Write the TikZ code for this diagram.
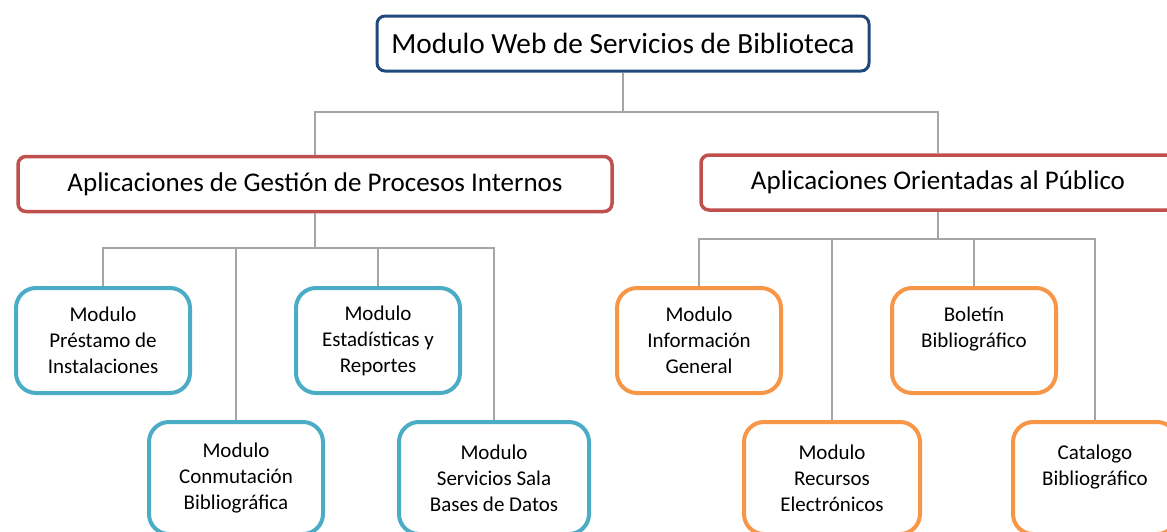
\documentclass[tikz,border=0pt]{standalone}
\usepackage{fontspec}
\setmainfont{Carlito}
\definecolor{blueC}{RGB}{31,73,125}
\definecolor{redC}{RGB}{192,80,77}
\definecolor{tealC}{RGB}{75,172,198}
\definecolor{orangeC}{RGB}{247,150,70}
\definecolor{lineC}{RGB}{165,165,165}
\tikzset{
  hdr/.style={draw=#1, line width=3.5pt, rounded corners=8pt, inner sep=0pt,
    minimum height=55pt, font=\fontsize{27}{33}\selectfont, text=black},
  modbox/.style={draw=#1, line width=4pt, rounded corners=20pt, inner sep=0pt,
    align=center, font=\fontsize{21}{26}\selectfont, text=black},
  conn/.style={draw=lineC, line width=2pt}
}
\begin{document}
\begin{tikzpicture}[x=1pt,y=-1pt]
\useasboundingbox (0,0) rectangle (1167,531);
\clip (0,0) rectangle (1167,531);
\fill[white] (0,0) rectangle (1167,531);
% headers
\node[hdr=blueC, minimum width=492pt, line width=3pt, font=\fontsize{29.3}{35}\selectfont] (top) at (623,43.5) {Modulo Web de Servicios de Biblioteca};
\node[hdr=redC, minimum width=594pt] (left) at (315,184) {Aplicaciones de Gestión de Procesos Internos};
\node[hdr=redC, minimum width=474pt] (right) at (938,182.5) {Aplicaciones Orientadas al Público};
% bus coordinates
\coordinate (bus0) at (623,112);
\coordinate (busL) at (315,248);
\coordinate (busR) at (938,239);
% modules
\node[modbox=tealC, minimum width=174pt, minimum height=105pt] (prest) at (103,340.5) {Modulo\\Préstamo de\\Instalaciones};
\node[modbox=tealC, minimum width=164pt, minimum height=105pt] (estad) at (378,340.5) {Modulo\\Estadísticas y\\Reportes};
\node[modbox=tealC, minimum width=174pt, minimum height=112pt] (conm) at (236,478) {Modulo\\Conmutación\\Bibliográfica};
\node[modbox=tealC, minimum width=190pt, minimum height=112pt] (serv) at (494,478) {Modulo\\Servicios Sala\\Bases de Datos};
\node[modbox=orangeC, minimum width=164pt, minimum height=105pt] (info) at (699,340.5) {Modulo\\Información\\General};
\node[modbox=orangeC, minimum width=164pt, minimum height=105pt] (bole) at (974,340.5) {Boletín\\Bibliográfico\\\mbox{}};
\node[modbox=orangeC, minimum width=176pt, minimum height=112pt] (recu) at (832,478) {Modulo\\Recursos\\Electrónicos};
\node[modbox=orangeC, minimum width=164pt, minimum height=112pt] (cata) at (1095,478) {Catalogo\\Bibliográfico\\\mbox{}};
% connectors
\draw[conn] (top.south) -- (bus0) -| (left.north);
\draw[conn] (bus0) -| (right.north);
\draw[conn] (left.south) -- (busL) -| (prest.north);
\draw[conn] (busL) -| (conm.north);
\draw[conn] (busL) -| (estad.north);
\draw[conn] (busL) -| (serv.north);
\draw[conn] (right.south) -- (busR) -| (info.north);
\draw[conn] (busR) -| (recu.north);
\draw[conn] (busR) -| (bole.north);
\draw[conn] (busR) -| (cata.north);
\end{tikzpicture}
\end{document}
